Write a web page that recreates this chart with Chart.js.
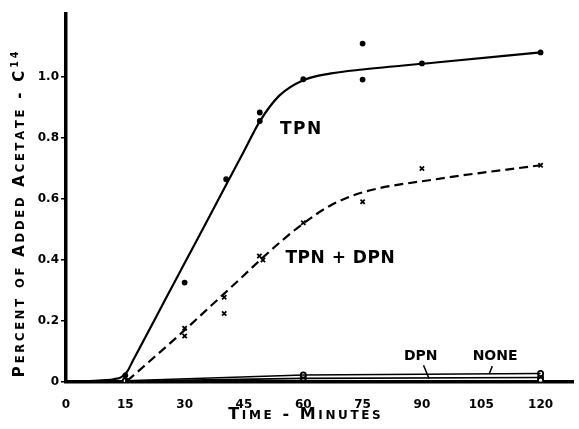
<!DOCTYPE html>
<html>
<head>
<meta charset="utf-8">
<script src="https://cdn.jsdelivr.net/npm/chart.js@4.4.0/dist/chart.umd.min.js"></script>
<style>
    body { margin: 0; background: #fff; }
    #wrap { width: 579px; height: 429px; }
</style>
</head>
<body>
<div id="wrap"><canvas id="myChart"></canvas></div>
<script>
// fitted curves (minutes, percent)
const tpnCurveX = [0, 6, 10, 12, 14, 15.5, 17, 20, 25, 30, 35, 40, 45, 49, 54, 60, 67, 75, 93.5, 120];
const tpnCurveY = [0.002, 0.003, 0.006, 0.009, 0.016, 0.035, 0.072, 0.145, 0.268, 0.39, 0.512, 0.635, 0.757, 0.855, 0.94, 0.99, 1.012, 1.025, 1.048, 1.081];

const mixCurveX = [15.5, 20, 25, 30, 35, 40, 45, 49.5, 55, 60, 67, 75, 93.5, 120];
const mixCurveY = [0.004, 0.055, 0.112, 0.17, 0.23, 0.29, 0.35, 0.405, 0.468, 0.52, 0.58, 0.622, 0.665, 0.711];

const noneCurveX = [15, 60, 120];
const noneCurveY = [0.004, 0.023, 0.028];

const dpnCurveX = [15, 60, 120];
const dpnCurveY = [0.003, 0.012, 0.015];

// measured points
const tpnObsX = [15, 30, 40.5, 49, 49, 60, 75, 75, 90, 120];
const tpnObsY = [0.022, 0.326, 0.665, 0.884, 0.856, 0.993, 1.11, 0.992, 1.045, 1.081];

const mixObsX = [15.5, 30, 30, 40, 40, 48.9, 49.8, 60, 75, 90, 120];
const mixObsY = [0.004, 0.176, 0.151, 0.278, 0.225, 0.413, 0.40, 0.522, 0.591, 0.70, 0.711];

const noneObsX = [60, 120];
const noneObsY = [0.023, 0.028];

const dpnObsX = [15, 60, 120, 120];
const dpnObsY = [0.004, 0.012, 0.015, 0.006];

// axes
const xTicks = [0, 15, 30, 45, 60, 75, 90, 105, 120];
const yTicks = [0, 0.2, 0.4, 0.6, 0.8, 1.0];

const FONT = '"DejaVu Sans", sans-serif';

function toPoints(xs, ys) {
    return xs.map(function (x, i) { return { x: x, y: ys[i] }; });
}

function curve(xs, ys, dash) {
    return {
        data: toPoints(xs, ys),
        borderColor: '#000',
        borderWidth: 2.2,
        borderDash: dash || [],
        pointRadius: 0,
        cubicInterpolationMode: 'monotone',
        fill: false
    };
}

function marks(xs, ys, style, filled, radius) {
    return {
        data: toPoints(xs, ys),
        showLine: false,
        pointStyle: style,
        pointRadius: radius,
        pointBorderWidth: 1.8,
        pointBorderColor: '#000',
        pointBackgroundColor: filled ? '#000' : '#fff'
    };
}

// draw "small caps" text: capitals big, lower case letters as small capitals
function drawCaps(c, text, sup, cx, cy, big, small, gap) {
    let parts = [];
    for (const ch of text) {
        const low = ch !== ch.toUpperCase();
        parts.push({ t: low ? ch.toUpperCase() : ch, size: low ? small : big, up: 0 });
    }
    for (const ch of sup) {
        parts.push({ t: ch, size: small * 0.85, up: big * 0.45 });
    }
    let total = 0;
    parts.forEach(function (p) {
        c.font = 'bold ' + p.size + 'px ' + FONT;
        p.w = c.measureText(p.t).width;
        total += p.w + gap;
    });
    total -= gap;
    let x = cx - total / 2;
    const base = cy + big * 0.36;
    c.textAlign = 'left';
    c.textBaseline = 'alphabetic';
    parts.forEach(function (p) {
        c.font = 'bold ' + p.size + 'px ' + FONT;
        c.fillText(p.t, x, base - p.up);
        x += p.w + gap;
    });
}

const labels = [
    { text: 'TPN', x: 59.3, y: 0.833, size: 17, gap: 1.5 },
    { text: 'TPN + DPN', x: 69.3, y: 0.41, size: 17, gap: 0.5 },
    { text: 'DPN', x: 89.7, y: 0.088, size: 14, gap: 0 },
    { text: 'NONE', x: 108.5, y: 0.088, size: 14, gap: 0 }
];
const leaders = [
    { x1: 90.4, y1: 0.055, x2: 91.8, y2: 0.011 },
    { x1: 107.8, y1: 0.052, x2: 107.0, y2: 0.026 }
];

const textPlugin = {
    id: 'textPlugin',
    afterDraw: function (chart) {
        const c = chart.ctx;
        const xs = chart.scales.x;
        const ys = chart.scales.y;
        c.save();
        c.fillStyle = '#000';
        c.strokeStyle = '#000';

        // axis titles
        drawCaps(c, 'Time - Minutes', '', xs.getPixelForValue(60.3), 413, 16, 12, 2.6);
        c.save();
        c.translate(19, ys.getPixelForValue(0.55));
        c.rotate(-Math.PI / 2);
        drawCaps(c, 'Percent of Added Acetate - C', '14', 0, 0, 15, 11.5, 2.8);
        c.restore();

        // curve labels
        labels.forEach(function (l) {
            drawCaps(c, l.text, '', xs.getPixelForValue(l.x), ys.getPixelForValue(l.y), l.size, l.size, l.gap);
        });
        c.lineWidth = 1.5;
        leaders.forEach(function (l) {
            c.beginPath();
            c.moveTo(xs.getPixelForValue(l.x1), ys.getPixelForValue(l.y1));
            c.lineTo(xs.getPixelForValue(l.x2), ys.getPixelForValue(l.y2));
            c.stroke();
        });
        c.restore();
    }
};

const ctx = document.getElementById('myChart');

let cfg = {
    type: 'line',
    data: {
        datasets: [
            curve(tpnCurveX, tpnCurveY),
            curve(mixCurveX, mixCurveY, [9, 5]),
            Object.assign(curve(noneCurveX, noneCurveY), { borderWidth: 1.6, cubicInterpolationMode: 'default', tension: 0 }),
            Object.assign(curve(dpnCurveX, dpnCurveY), { borderWidth: 1.6, cubicInterpolationMode: 'default', tension: 0 }),
            marks(tpnObsX, tpnObsY, 'circle', true, 2),
            marks(mixObsX, mixObsY, 'crossRot', false, 3),
            marks(noneObsX, noneObsY, 'circle', false, 2.6),
            marks(dpnObsX, dpnObsY, 'circle', false, 2.6)
        ]
    },
    options: {
        responsive: true,
        maintainAspectRatio: false,
        animation: false,
        layout: { padding: { top: 14, right: 0, left: 0, bottom: 0 } },
        plugins: {
            legend: { display: false },
            tooltip: { enabled: false }
        },
        scales: {
            x: {
                type: 'linear',
                min: 0,
                max: 128.25,
                afterBuildTicks: function (scale) {
                    scale.ticks = xTicks.map(function (v) { return { value: v }; });
                },
                afterFit: function (scale) { scale.height = 47; },
                grid: { display: false },
                border: { color: '#000', width: 3.5 },
                ticks: {
                    color: '#000',
                    padding: 8,
                    maxRotation: 0,
                    font: { family: FONT, size: 12, weight: 'bold' }
                }
            },
            y: {
                min: 0,
                max: 1.207,
                afterBuildTicks: function (scale) {
                    scale.ticks = yTicks.map(function (v) { return { value: v }; });
                },
                afterFit: function (scale) { scale.width = 66; },
                grid: { drawOnChartArea: false, color: '#000', lineWidth: 1.5, tickLength: 5 },
                border: { color: '#000', width: 3.5 },
                ticks: {
                    color: '#000',
                    padding: 2,
                    callback: function (value) {
                        return value === 0 ? '0' : value.toFixed(1);
                    },
                    font: { family: FONT, size: 12, weight: 'bold' }
                }
            }
        }
    },
    plugins: [textPlugin]
};

let myChart = new Chart(ctx, cfg);
</script>
</body>
</html>
